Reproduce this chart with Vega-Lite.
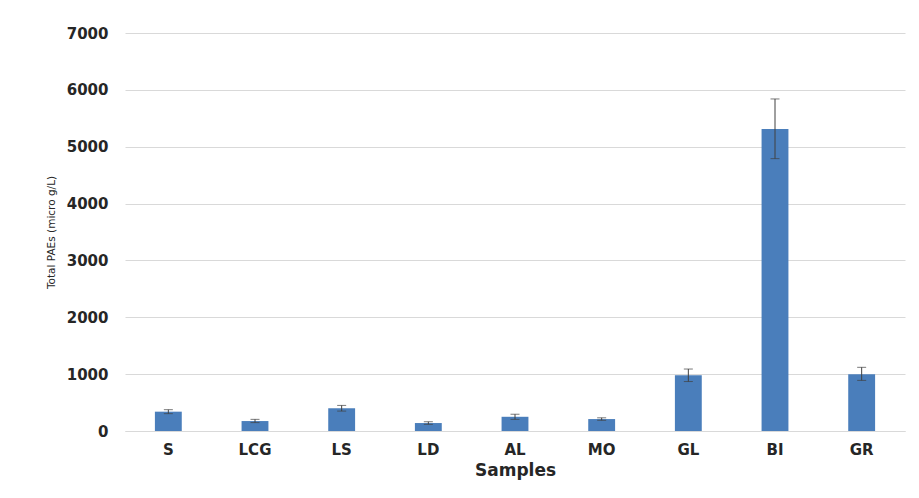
{
  "$schema": "https://vega.github.io/schema/vega-lite/v6.json",
  "width": 780,
  "height": 398,
  "autosize": {"type": "none"},
  "padding": {"left": 125, "top": 33, "right": 14, "bottom": 67},
  "background": "white",
  "config": {
    "view": {"stroke": null},
    "font": "DejaVu Sans"
  },
  "data": {
    "values": [
      {"sample": "S", "value": 340, "lo": 305, "hi": 375},
      {"sample": "LCG", "value": 175, "lo": 148, "hi": 205},
      {"sample": "LS", "value": 400, "lo": 350, "hi": 450},
      {"sample": "LD", "value": 140, "lo": 117, "hi": 163},
      {"sample": "AL", "value": 250, "lo": 205, "hi": 295},
      {"sample": "MO", "value": 210, "lo": 188, "hi": 232},
      {"sample": "GL", "value": 980, "lo": 870, "hi": 1090},
      {"sample": "BI", "value": 5310, "lo": 4790, "hi": 5840},
      {"sample": "GR", "value": 1000, "lo": 890, "hi": 1120}
    ]
  },
  "encoding": {
    "x": {
      "field": "sample",
      "type": "nominal",
      "sort": null,
      "scale": {"paddingInner": 0.69, "paddingOuter": 0.345},
      "axis": {
        "title": "Samples",
        "titleFontSize": 17,
        "titleFontWeight": "bold",
        "titleColor": "#262626",
        "titlePadding": 5,
        "labelFontSize": 15,
        "labelFontWeight": "bold",
        "labelColor": "#262626",
        "labelAngle": 0,
        "labelPadding": 11,
        "ticks": false,
        "domain": true,
        "domainColor": "#d9d9d9",
        "grid": false
      }
    }
  },
  "layer": [
    {
      "mark": {"type": "bar", "color": "#4a7ebb"},
      "encoding": {
        "y": {
          "field": "value",
          "type": "quantitative",
          "scale": {"domain": [0, 7000], "nice": false},
          "axis": {
            "title": "Total PAEs (micro g/L)",
            "titleFontSize": 10.5,
            "titleFontWeight": "normal",
            "titleColor": "#262626",
            "titlePadding": 10,
            "format": "d",
            "values": [0, 1000, 2000, 3000, 4000, 5000, 6000, 7000],
            "labelFontSize": 15,
            "labelFontWeight": "bold",
            "labelColor": "#262626",
            "labelPadding": 17,
            "ticks": false,
            "domain": false,
            "grid": true,
            "gridColor": "#d9d9d9",
            "gridWidth": 1
          }
        }
      }
    },
    {
      "mark": {"type": "rule", "color": "#404040", "strokeWidth": 1},
      "encoding": {
        "y": {"field": "lo", "type": "quantitative"},
        "y2": {"field": "hi"}
      }
    },
    {
      "mark": {"type": "tick", "color": "#404040", "thickness": 1, "size": 9},
      "encoding": {"y": {"field": "hi", "type": "quantitative"}}
    },
    {
      "mark": {"type": "tick", "color": "#404040", "thickness": 1, "size": 9},
      "encoding": {"y": {"field": "lo", "type": "quantitative"}}
    }
  ]
}
